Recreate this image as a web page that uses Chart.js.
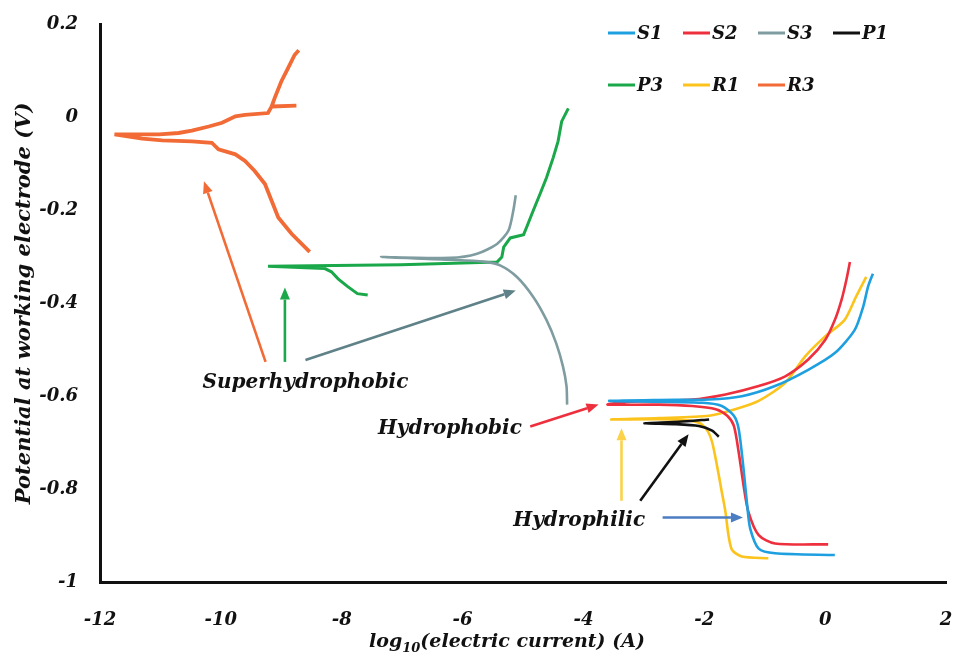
<!DOCTYPE html>
<html>
<head>
<meta charset="utf-8">
<script src="https://cdn.jsdelivr.net/npm/chart.js@4.4.0/dist/chart.umd.min.js"></script>
<style>
  html, body { margin: 0; padding: 0; background: #fff; }
</style>
</head>
<body>
<canvas id="chart" width="961" height="662"></canvas>
<script>
// Polarisation curves: log10(current) on x, potential (V) on y
const seriesNames = ["S1", "S2", "S3", "P1", "P3", "R1", "R3"];
const seriesColors = ["#1e9fe0", "#ee2f3d", "#7f9ca0", "#111111", "#1aa84a", "#fbc31c", "#f26a35"];

const s1Current = [0.16, -0.83, -1.10, -1.24, -1.29, -1.35, -1.43, -1.51, -1.71, -2.03, -3.57, -2.75, -1.92, -1.38, -0.83, -0.28, 0.16, 0.49, 0.63, 0.71, 0.79];
const s1Potential = [-0.942, -0.938, -0.928, -0.885, -0.835, -0.757, -0.671, -0.642, -0.621, -0.614, -0.610, -0.608, -0.607, -0.600, -0.578, -0.543, -0.507, -0.457, -0.407, -0.364, -0.336];

const s2Current = [0.05, -0.83, -1.10, -1.27, -1.35, -1.43, -1.51, -1.62, -1.81, -2.20, -2.75, -3.60, -3.29, -2.20, -1.65, -1.10, -0.66, -0.28, 0.00, 0.16, 0.27, 0.35, 0.41];
const s2Potential = [-0.919, -0.917, -0.899, -0.849, -0.792, -0.721, -0.664, -0.642, -0.628, -0.621, -0.618, -0.618, -0.612, -0.607, -0.596, -0.578, -0.557, -0.521, -0.479, -0.436, -0.393, -0.350, -0.311];

const s3Current = [-4.27, -4.28, -4.34, -4.45, -4.61, -4.83, -5.10, -5.38, -5.65, -6.20, -7.35, -6.20, -5.76, -5.43, -5.24, -5.16, -5.12];
const s3Potential = [-0.618, -0.578, -0.535, -0.486, -0.436, -0.386, -0.343, -0.318, -0.310, -0.306, -0.300, -0.302, -0.293, -0.272, -0.243, -0.200, -0.167];

const p1Current = [-1.76, -1.87, -2.09, -2.47, -2.99, -2.42, -1.92];
const p1Potential = [-0.687, -0.674, -0.664, -0.660, -0.658, -0.655, -0.650];

const p3Current = [-7.57, -7.74, -7.90, -8.06, -8.17, -8.28, -9.22, -7.02, -5.43, -5.35, -5.32, -5.21, -4.99, -4.94, -4.83, -4.72, -4.61, -4.50, -4.42, -4.36, -4.25];
const p3Potential = [-0.382, -0.379, -0.364, -0.347, -0.332, -0.325, -0.320, -0.317, -0.311, -0.300, -0.279, -0.259, -0.252, -0.236, -0.200, -0.165, -0.129, -0.086, -0.051, -0.008, 0.020];

const r1Current = [-0.94, -1.38, -1.54, -1.60, -1.65, -1.71, -1.79, -1.87, -1.95, -2.09, -2.47, -3.54, -2.75, -1.92, -1.49, -1.10, -0.66, -0.33, 0.00, 0.32, 0.51, 0.68];
const r1Potential = [-0.949, -0.945, -0.931, -0.899, -0.849, -0.806, -0.749, -0.699, -0.674, -0.657, -0.650, -0.650, -0.647, -0.642, -0.628, -0.610, -0.571, -0.514, -0.471, -0.436, -0.386, -0.343];

const r3Current = [-8.53, -8.83, -9.05, -9.16, -9.27, -9.44, -9.60, -9.76, -10.04, -10.15, -10.48, -10.97, -11.30, -11.76, -11.02, -10.70, -10.48, -10.20, -9.98, -9.76, -9.60, -9.22, -9.16, -8.75, -9.16, -9.11, -9.00, -8.89, -8.78, -8.71];
const r3Potential = [-0.289, -0.250, -0.215, -0.179, -0.143, -0.115, -0.093, -0.079, -0.068, -0.054, -0.051, -0.049, -0.045, -0.036, -0.036, -0.033, -0.028, -0.019, -0.011, 0.003, 0.006, 0.010, 0.024, 0.026, 0.024, 0.042, 0.078, 0.106, 0.135, 0.145];

const xTicks = [-12, -10, -8, -6, -4, -2, 0, 2];
const yTicks = [0.2, 0, -0.2, -0.4, -0.6, -0.8, -1];

// annotation arrows and labels, in data units
const arrows = [
  { from: [-9.26, -0.526], to: [-10.28, -0.137], color: "#f26a35" },
  { from: [-8.94, -0.526], to: [-8.94, -0.366], color: "#1aa84a" },
  { from: [-8.60, -0.522], to: [-5.12, -0.372], color: "#5f8188" },
  { from: [-4.88, -0.665], to: [-3.75, -0.618], color: "#ee2f3d" },
  { from: [-3.37, -0.825], to: [-3.37, -0.669], color: "#fcd24a" },
  { from: [-3.06, -0.825], to: [-2.26, -0.682], color: "#111111" },
  { from: [-2.69, -0.861], to: [-1.36, -0.861], color: "#4a7dc2" },
];
const notes = [
  { text: "Superhydrophobic", x: -8.60, y: -0.571 },
  { text: "Hydrophobic", x: -6.21, y: -0.671 },
  { text: "Hydrophilic", x: -4.07, y: -0.868 },
];

const FONT = "'DejaVu Serif', serif";

function pts(xs, ys) {
  return xs.map((x, i) => ({ x: x, y: ys[i] }));
}

const curves = [
  pts(s1Current, s1Potential),
  pts(s2Current, s2Potential),
  pts(s3Current, s3Potential),
  pts(p1Current, p1Potential),
  pts(p3Current, p3Potential),
  pts(r1Current, r1Potential),
  pts(r3Current, r3Potential),
];
const smooth = [0.25, 0.25, 0.25, 0.2, 0, 0.25, 0];
const widths = [2.6, 2.6, 2.6, 2.6, 3, 2.6, 3.8];

function drawArrow(ctx, x1, y1, x2, y2, color) {
  const a = Math.atan2(y2 - y1, x2 - x1);
  const head = 12, half = 5;
  const bx = x2 - head * Math.cos(a), by = y2 - head * Math.sin(a);
  ctx.strokeStyle = color;
  ctx.fillStyle = color;
  ctx.lineWidth = 2.6;
  ctx.beginPath();
  ctx.moveTo(x1, y1);
  ctx.lineTo(bx, by);
  ctx.stroke();
  ctx.beginPath();
  ctx.moveTo(x2, y2);
  ctx.lineTo(bx + half * Math.sin(a), by - half * Math.cos(a));
  ctx.lineTo(bx - half * Math.sin(a), by + half * Math.cos(a));
  ctx.closePath();
  ctx.fill();
}

// arrows, labels, legend and the x title (needs a subscript)
const extrasPlugin = {
  id: "extras",
  afterDraw(chart) {
    const { ctx, chartArea, scales } = chart;
    const sx = scales.x, sy = scales.y;
    ctx.save();

    for (const ar of arrows) {
      drawArrow(ctx,
        sx.getPixelForValue(ar.from[0]), sy.getPixelForValue(ar.from[1]),
        sx.getPixelForValue(ar.to[0]), sy.getPixelForValue(ar.to[1]), ar.color);
    }

    ctx.font = "italic bold 20px " + FONT;
    ctx.fillStyle = "#111";
    ctx.textAlign = "center";
    ctx.textBaseline = "middle";
    for (const n of notes) {
      ctx.fillText(n.text, sx.getPixelForValue(n.x), sy.getPixelForValue(n.y));
    }

    // legend: 4 columns, 2 rows
    ctx.font = "italic bold 18px " + FONT;
    ctx.textAlign = "left";
    chart.data.datasets.forEach((ds, i) => {
      const col = i % 4, row = Math.floor(i / 4);
      const x0 = chartArea.right - 338 + col * 75;
      const y0 = 33 + row * 52;
      ctx.strokeStyle = ds.borderColor;
      ctx.lineWidth = 3;
      ctx.beginPath();
      ctx.moveTo(x0, y0);
      ctx.lineTo(x0 + 27, y0);
      ctx.stroke();
      ctx.fillStyle = "#111";
      ctx.fillText(ds.label, x0 + 29, y0 + 1);
    });

    // x axis title: log10(electric current) (A)
    const big = "italic bold 19px " + FONT, small = "italic bold 13px " + FONT;
    const parts = [["log", big, 0], ["10", small, 5], ["(electric current) (A)", big, 0]];
    let total = 0;
    parts.forEach(p => { ctx.font = p[1]; total += ctx.measureText(p[0]).width; });
    let x = (chartArea.left + chartArea.right) / 2 - 16 - total / 2;
    const base = 647;
    ctx.textBaseline = "alphabetic";
    ctx.fillStyle = "#111";
    parts.forEach(p => {
      ctx.font = p[1];
      ctx.fillText(p[0], x, base + p[2]);
      x += ctx.measureText(p[0]).width;
    });

    ctx.restore();
  },
};

new Chart(document.getElementById("chart"), {
  type: "scatter",
  data: {
    datasets: seriesNames.map((name, i) => ({
      label: name,
      data: curves[i],
      showLine: true,
      borderColor: seriesColors[i],
      backgroundColor: seriesColors[i],
      borderWidth: widths[i],
      pointRadius: 0,
      tension: smooth[i],
    })),
  },
  options: {
    responsive: false,
    animation: false,
    layout: { padding: { top: 20, right: 15, left: 0, bottom: 0 } },
    plugins: {
      legend: { display: false },
      tooltip: { enabled: false },
    },
    scales: {
      x: {
        type: "linear",
        min: -12,
        max: 2,
        afterBuildTicks: (scale) => { scale.ticks = xTicks.map(v => ({ value: v })); },
        afterFit: (scale) => {
          scale.height = 80;
          scale.paddingLeft = 0;
          scale.paddingRight = 0;
        },
        grid: { display: false },
        border: { display: true, color: "#111", width: 3 },
        ticks: {
          color: "#111",
          padding: 20,
          font: { family: FONT, size: 18, style: "italic", weight: "bold" },
          callback: (v) => String(v),
        },
      },
      y: {
        type: "linear",
        min: -1,
        max: 0.2,
        afterBuildTicks: (scale) => { scale.ticks = yTicks.map(v => ({ value: v })); },
        afterFit: (scale) => { scale.width = 100; },
        grid: { display: false },
        border: { display: true, color: "#111", width: 3 },
        title: {
          display: true,
          text: "Potential at working electrode (V)",
          color: "#111",
          padding: { top: 12, bottom: 0 },
          font: { family: FONT, size: 21, style: "italic", weight: "bold" },
        },
        ticks: {
          color: "#111",
          padding: 14,
          font: { family: FONT, size: 18, style: "italic", weight: "bold" },
          callback: (v) => String(Number(v.toFixed(1))),
        },
      },
    },
  },
  plugins: [extrasPlugin],
});
</script>
</body>
</html>
